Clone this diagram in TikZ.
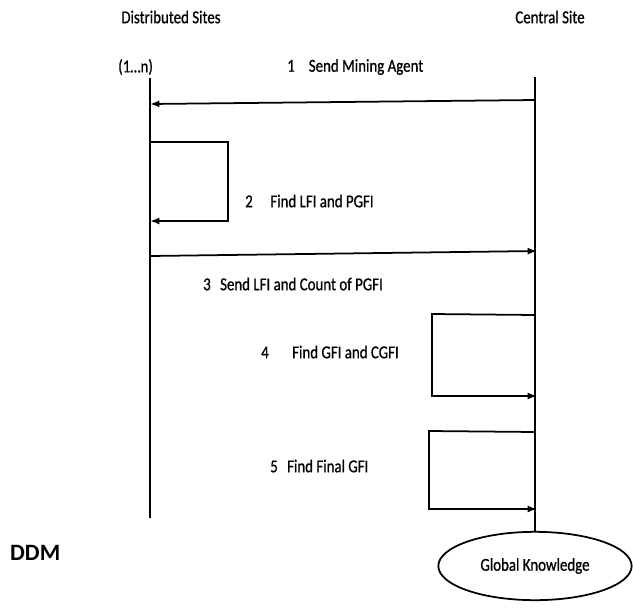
\documentclass[tikz,border=0pt]{standalone}
\usepackage{fontspec}
\setmainfont{Carlito}[FakeStretch=0.82, FakeBold=0.8]
\newfontfamily\headfont{Carlito}
\usetikzlibrary{shapes.geometric,arrows,arrows.meta,positioning,calc}

\begin{document}
\begin{tikzpicture}[
    x=0.03cm, y=-0.03cm,
    >={Latex[length=8pt,width=6pt]},
    every node/.style={font=\fontsize{15.5}{18}\selectfont, inner sep=0pt},
    lifeline/.style={line width=1.5pt},
    msgline/.style={->, line width=1.5pt},
    loopline/.style={->, line width=1.5pt},
    knownode/.style={ellipse, draw, line width=1.5pt, minimum width=5.8cm, minimum height=2.05cm}
]
    \useasboundingbox (0,0) rectangle (633,611);

    % headings
    \node (dist) at (171,17) {Distributed Sites};
    \node (cent) at (550,17) {Central Site};
    \node (range) [anchor=west] at (118,67) {(1\ldots n)};
    \node (ddm) [anchor=west] at (10,553) {\headfont\fontsize{20}{24}\selectfont\bfseries DDM};
    \node (gk) [knownode] at (535,566) {Global Knowledge};

    % lifelines
    \coordinate (dtop) at (150,78);
    \coordinate (dbot) at (150,518);
    \coordinate (ctop) at (535,77);
    \draw[lifeline] (dtop) -- (dbot);
    \draw[lifeline] (ctop) -- (gk.north);

    % 1 send mining agent
    \coordinate (c1) at (535,100);
    \coordinate (d1) at (150,104);
    \draw[msgline] (c1) -- (d1);
    \node (l1) [anchor=west] at (287,67) {1\hspace{12pt}Send Mining Agent};

    % 2 local loop
    \coordinate (d2a) at (150,142);
    \coordinate (d2b) at (150,221);
    \draw[loopline] (d2a) -- (228,142) -- (228,221) -- (d2b);
    \node (l2) [anchor=west] at (245,201) {2\hspace{15pt}Find LFI and PGFI};

    % 3 send back
    \coordinate (d3) at (150,256);
    \coordinate (c3) at (537,251);
    \draw[msgline] (d3) -- (c3);
    \node (l3) [anchor=west] at (203,284) {3\hspace{8pt}Send LFI and Count of PGFI};

    % 4 central loop
    \coordinate (c4a) at (535,315);
    \coordinate (c4b) at (537,396);
    \draw[loopline] (c4a) -- (432,314) -- (432,396) -- (c4b);
    \node (l4) [anchor=west] at (261,352) {4\hspace{20pt}Find GFI and CGFI};

    % 5 central loop
    \coordinate (c5a) at (535,432);
    \coordinate (c5b) at (537,509);
    \draw[loopline] (c5a) -- (429,431) -- (429,509) -- (c5b);
    \node (l5) [anchor=west] at (270,466) {5\hspace{8pt}Find Final GFI};

\end{tikzpicture}
\end{document}
